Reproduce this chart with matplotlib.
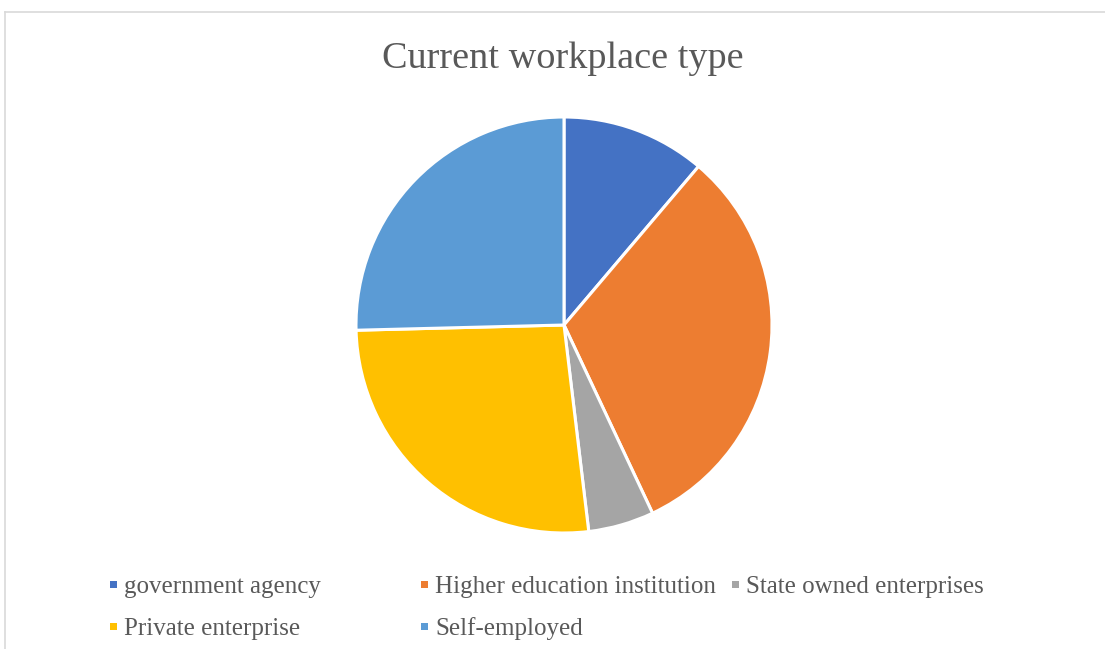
import matplotlib.pyplot as plt
from matplotlib.lines import Line2D
from matplotlib.patches import Rectangle

# share of respondents by current workplace type (%)
categories = ["government agency", "Higher education institution",
              "State owned enterprises", "Private enterprise", "Self-employed"]
shares = [11.2, 31.8, 5.1, 26.5, 25.4]
colors = ["#4472C4", "#ED7D31", "#A5A5A5", "#FFC000", "#5B9BD5"]

W, H = 1105, 649
plt.rcParams['font.family'] = ['Liberation Serif', 'DejaVu Serif']

fig = plt.figure(figsize=(W / 100, H / 100), dpi=100)

# chart area border (top and left edges visible)
fig.add_artist(Line2D([5 / W, 1.0], [1 - 12 / H, 1 - 12 / H], color="#D9D9D9", lw=1.2))
fig.add_artist(Line2D([5 / W, 5 / W], [1 - 12 / H, 0.0], color="#D9D9D9", lw=1.2))

fig.text(563 / W, 1 - 68 / H, "Current workplace type", ha="center", va="baseline",
         fontsize=27.5, color="#595959")

# pie, centred at (564, 325) px with radius 208 px
cx, cy, r = 564, 325, 208
ax = fig.add_axes([(cx - r) / W, 1 - (cy + r) / H, 2 * r / W, 2 * r / H])
ax.pie(shares, colors=colors, startangle=90, counterclock=False, radius=1,
       wedgeprops=dict(edgecolor="white", linewidth=2.2))
ax.set_xlim(-1, 1)
ax.set_ylim(-1, 1)
ax.set_aspect("equal")
ax.axis("off")

# legend laid out in rows of three equal-width columns
col_x = [113, 424, 735]
row_y = [584, 626]
for i, (name, c) in enumerate(zip(categories, colors)):
    x = col_x[i % 3]
    y = row_y[i // 3]
    sq = 7
    fig.add_artist(Rectangle(((x - sq / 2) / W, 1 - (y + sq / 2) / H), sq / W, sq / H,
                             facecolor=c, edgecolor="none", transform=fig.transFigure))
    fig.text((x + 11) / W, 1 - y / H, name, ha="left", va="center_baseline",
             fontsize=18, color="#595959")

fig.savefig("out.png", dpi=100)
